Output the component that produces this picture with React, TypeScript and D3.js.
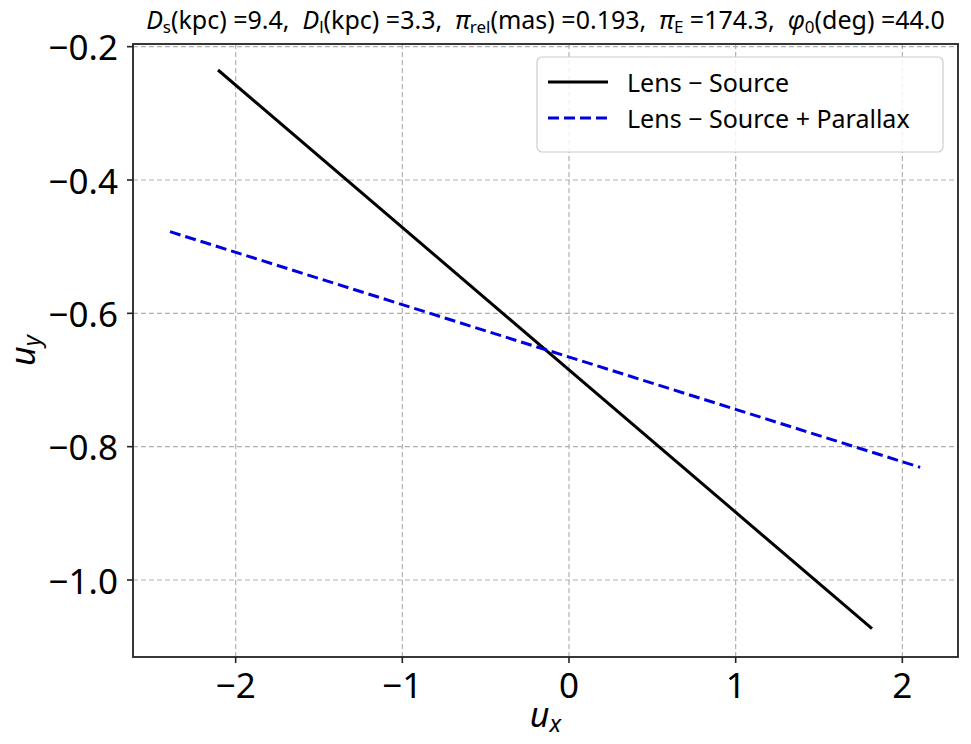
import React from "react";
import * as d3 from "d3";

const lensSourceX = [-2.106, 1.818];
const lensSourceY = [-0.235, -1.073];
const parallaxX = [-2.394, 2.107];
const parallaxY = [-0.4775, -0.831];
const xTicks = [-2, -1, 0, 1, 2];
const yTicks = [-1.0, -0.8, -0.6, -0.4, -0.2];
const legendLabels = ["Lens \u2212 Source", "Lens \u2212 Source + Parallax"];

const W = 971, H = 744;
const L = 133, R = 958, T = 44, B = 657;
const FONT = "'Noto Sans', 'DejaVu Sans', sans-serif";
const SP = "\u00a0\u00a0";

export default function App() {
  const x = d3.scaleLinear().domain([-2.616, 2.334]).range([L, R]);
  const y = d3.scaleLinear().domain([-1.1155, -0.196]).range([B, T]);
  const line = d3.line<[number, number]>().x(d => x(d[0])).y(d => y(d[1]));
  const blackPts = lensSourceX.map((v, i) => [v, lensSourceY[i]] as [number, number]);
  const bluePts = parallaxX.map((v, i) => [v, parallaxY[i]] as [number, number]);
  const fmtY = (v: number) => (v < 0 ? "\u2212" : "") + Math.abs(v).toFixed(1);
  const fmtX = (v: number) => (v < 0 ? "\u2212" : "") + Math.abs(v).toString();

  return (
    <svg width={W} height={H} style={{ position: "absolute", left: 0, top: 0, background: "#fff" }} fontFamily={FONT}>
      <rect x={0} y={0} width={W} height={H} fill="#fff" />
      {/* grid */}
      <g stroke="#b0b0b0" strokeWidth={1.2} strokeDasharray="5,3">
        {xTicks.map(t => <line key={"gx" + t} x1={x(t)} x2={x(t)} y1={T} y2={B} />)}
        {yTicks.map(t => <line key={"gy" + t} x1={L} x2={R} y1={y(t)} y2={y(t)} />)}
      </g>
      {/* data */}
      <path d={line(blackPts) || ""} fill="none" stroke="#000" strokeWidth={3} />
      <path d={line(bluePts) || ""} fill="none" stroke="#0000dd" strokeWidth={3} strokeDasharray="11,5" />
      {/* spines */}
      <rect x={L} y={T} width={R - L} height={B - T} fill="none" stroke="#222" strokeWidth={1.8} />
      {/* ticks */}
      <g stroke="#222" strokeWidth={1.6}>
        {xTicks.map(t => <line key={"tx" + t} x1={x(t)} x2={x(t)} y1={B} y2={B + 6} />)}
        {yTicks.map(t => <line key={"ty" + t} x1={L - 6} x2={L} y1={y(t)} y2={y(t)} />)}
      </g>
      <g fontSize={35} fill="#000">
        {xTicks.map(t => (
          <text key={"lx" + t} x={x(t)} y={698} textAnchor="middle">{fmtX(t)}</text>
        ))}
        {yTicks.map(t => (
          <text key={"ly" + t} x={118} y={y(t)} textAnchor="end" dominantBaseline="central">{fmtY(t)}</text>
        ))}
      </g>
      {/* axis labels */}
      <text x={(L + R) / 2} y={727} fontSize={34} textAnchor="middle">
        <tspan fontStyle="italic">u</tspan>
        <tspan fontSize={24} fontStyle="italic" dy={5}>x</tspan>
      </text>
      <text transform={`translate(35,${(T + B) / 2}) rotate(-90)`} fontSize={34} textAnchor="middle">
        <tspan fontStyle="italic">u</tspan>
        <tspan fontSize={24} fontStyle="italic" dy={5}>y</tspan>
      </text>
      {/* title */}
      <text x={(L + R) / 2} y={29} fontSize={25} textAnchor="middle">
        <tspan fontStyle="italic">D</tspan><tspan fontSize={17} dy={4}>s</tspan>
        <tspan dy={-4}>{"(kpc) =9.4," + SP}</tspan>
        <tspan fontStyle="italic">D</tspan><tspan fontSize={17} dy={4}>l</tspan>
        <tspan dy={-4}>{"(kpc) =3.3," + SP}</tspan>
        <tspan fontStyle="italic">π</tspan><tspan fontSize={17} dy={4}>rel</tspan>
        <tspan dy={-4}>{"(mas) =0.193," + SP}</tspan>
        <tspan fontStyle="italic">π</tspan><tspan fontSize={17} dy={4}>E</tspan>
        <tspan dy={-4}>{"\u00a0=174.3," + SP}</tspan>
        <tspan fontStyle="italic">φ</tspan><tspan fontSize={17} dy={4}>0</tspan>
        <tspan dy={-4}>(deg) =44.0</tspan>
      </text>
      {/* legend */}
      <g>
        <rect x={537} y={57} width={406} height={95} rx={5} fill="#fff" fillOpacity={0.85} stroke="#cccccc" strokeWidth={1.2} />
        <line x1={548} x2={608} y1={82} y2={82} stroke="#000" strokeWidth={3} />
        <line x1={548} x2={608} y1={118} y2={118} stroke="#0000dd" strokeWidth={3} strokeDasharray="11,5" />
        <text x={627} y={82} fontSize={25} dominantBaseline="central">{legendLabels[0]}</text>
        <text x={627} y={118} fontSize={25} dominantBaseline="central">{legendLabels[1]}</text>
      </g>
    </svg>
  );
}
